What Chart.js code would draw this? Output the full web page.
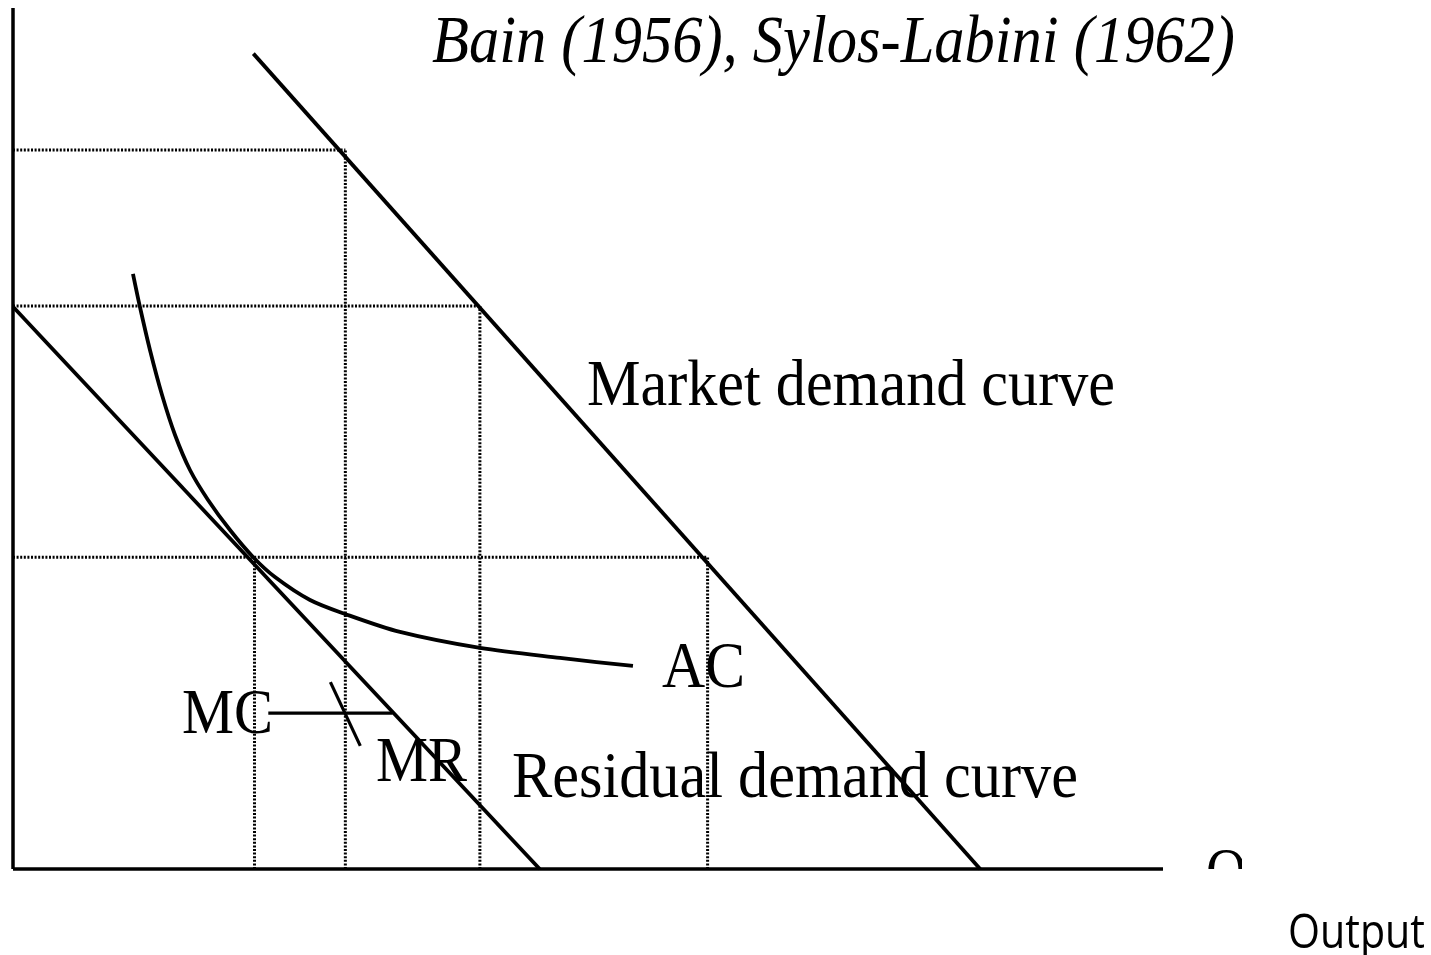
<!DOCTYPE html>
<html>
<head>
<meta charset="utf-8">
<title>Bain (1956), Sylos-Labini (1962)</title>
<script src="https://cdn.jsdelivr.net/npm/chart.js@4/dist/chart.umd.min.js"></script>
<style>
    html, body { margin: 0; padding: 0; background: #fff; }
    #wrap { width: 1431px; height: 955px; }
</style>
</head>
<body>
<div id="wrap"><canvas id="myChart" width="1431" height="955"></canvas></div>
<script>
// Eksen birimleri: x 0-100 (çıktı), y 0-100 (fiyat)
const axisX = [[0, 0], [100, 0]];
const axisY = [[0, 0], [0, 100]];

// Talep eğrileri
const marketDemand = [[20.9, 94.7], [84.1, 0]];
const residualDemand = [[0, 65.3], [45.8, 0]];

// Ortalama maliyet eğrisi
const acX = [10.43, 11.04, 11.91, 12.96, 14.09, 15.39, 16.96, 18.87, 20.87, 22.78, 25.83, 28.87, 33.65, 40.61, 47.57, 53.91];
const acY = [69.11, 65.27, 60.28, 55.05, 50.41, 46.34, 42.86, 39.37, 36.24, 33.91, 31.24, 29.62, 27.53, 25.67, 24.51, 23.58];

// MC ve MR kısa çizgileri
const mcLine = [[22.2, 18.1], [33.0, 18.1]];
const mrLine = [[27.6, 21.7], [30.2, 14.3]];

// Noktalı kılavuz çizgileri
const guideQ = [21.0, 28.9, 40.6, 60.4];
const guideP = [36.2, 83.5, 65.4, 36.2];
const hGuideP = [83.5, 65.4, 36.2];
const hGuideQ = [28.9, 40.6, 60.4];

const toPts = arr => arr.map(p => ({ x: p[0], y: p[1] }));

const solid = (data, extra) => Object.assign({
    data: data,
    showLine: true,
    borderColor: '#000',
    borderWidth: 3.8,
    pointRadius: 0,
    fill: false,
    clip: false
}, extra || {});

const dotted = data => ({
    data: data,
    showLine: true,
    borderColor: '#000',
    borderWidth: 3,
    borderDash: [2, 1.6],
    pointRadius: 0,
    fill: false,
    clip: false
});

const datasets = [];
guideQ.forEach((q, i) => datasets.push(dotted([{ x: q, y: 0 }, { x: q, y: guideP[i] }])));
hGuideP.forEach((p, i) => datasets.push(dotted([{ x: 0, y: p }, { x: hGuideQ[i], y: p }])));
datasets.push(solid(toPts(axisX), { borderWidth: 3.5 }));
datasets.push(solid(toPts(axisY), { borderWidth: 3.5 }));
datasets.push(solid(toPts(marketDemand)));
datasets.push(solid(toPts(residualDemand)));
datasets.push(solid(acX.map((x, i) => ({ x: x, y: acY[i] })), { tension: 0.3 }));
datasets.push(solid(toPts(mcLine), { borderWidth: 3.2 }));
datasets.push(solid(toPts(mrLine), { borderWidth: 3.2 }));

// Metin etiketleri (piksel konumu, hedef genişlik)
const labels = [
    { text: 'Bain (1956), Sylos-Labini (1962)', left: 432, right: 1235, base: 62, size: 68, font: 'italic {s}px "Liberation Serif", serif' },
    { text: 'Market demand curve', left: 587, right: 1115, base: 405, size: 66, font: '{s}px "Liberation Serif", serif' },
    { text: 'AC', left: 662, right: 745, base: 687, size: 66, font: '{s}px "Liberation Serif", serif' },
    { text: 'MC', left: 182, right: 273, base: 733, size: 64, font: '{s}px "Liberation Serif", serif' },
    { text: 'MR', left: 376, right: 467, base: 781, size: 64, font: '{s}px "Liberation Serif", serif' },
    { text: 'Residual demand curve', left: 512, right: 1078, base: 797, size: 66, font: '{s}px "Liberation Serif", serif' },
    { text: 'Output', left: 1288, right: 1425, base: 948, size: 48, font: '{s}px "Open Sans", sans-serif' }
];

const textPlugin = {
    id: 'textLabels',
    afterDraw(chart) {
        const ctx = chart.ctx;
        ctx.save();
        ctx.fillStyle = '#000';
        ctx.textBaseline = 'alphabetic';
        labels.forEach(l => {
            ctx.font = l.font.replace('{s}', l.size);
            const w = ctx.measureText(l.text).width;
            const sx = (l.right - l.left) / w;
            ctx.save();
            ctx.translate(l.left, l.base);
            ctx.scale(sx, 1);
            ctx.fillText(l.text, 0, 0);
            ctx.restore();
        });
        // Kesilmiş "Q" harfi
        ctx.save();
        ctx.beginPath();
        ctx.rect(1190, 820, 52, 49);
        ctx.clip();
        ctx.font = '66px "Liberation Serif", serif';
        ctx.translate(1206, 893);
        ctx.scale(0.85, 1);
        ctx.fillText('Q', 0, 0);
        ctx.restore();
        ctx.restore();
    }
};

document.addEventListener('DOMContentLoaded', () => {
    const ctx = document.getElementById('myChart').getContext('2d');
    new Chart(ctx, {
        type: 'scatter',
        data: { datasets: datasets },
        options: {
            responsive: false,
            animation: false,
            layout: { padding: { left: 13, top: 8, right: 268, bottom: 86 } },
            scales: {
                x: { type: 'linear', min: 0, max: 100, display: false },
                y: { type: 'linear', min: 0, max: 100, display: false }
            },
            plugins: {
                legend: { display: false },
                tooltip: { enabled: false }
            },
            elements: { line: { borderCapStyle: 'butt' } }
        },
        plugins: [textPlugin]
    });
});
</script>
</body>
</html>
